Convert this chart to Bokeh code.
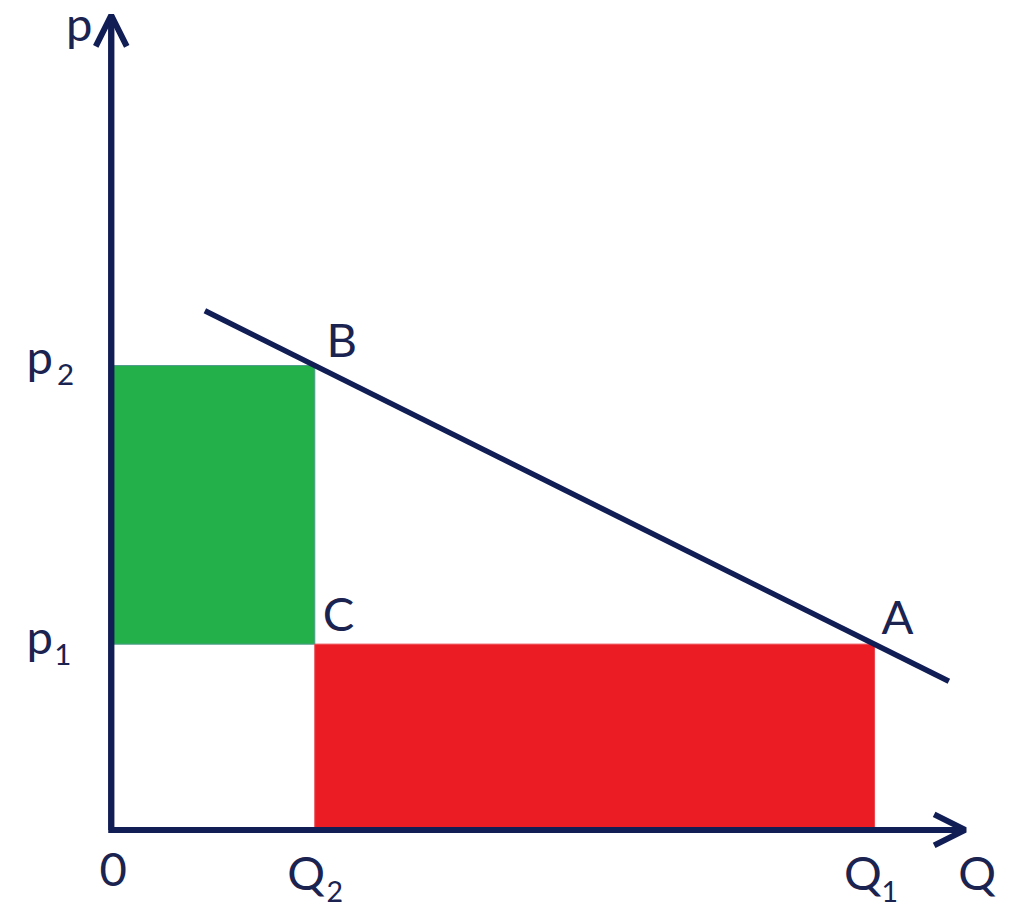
from bokeh.plotting import figure
from bokeh.models import Range1d, Arrow, OpenHead
from bokeh.core.properties import value
from bokeh.embed import file_html
from bokeh.resources import INLINE

# ---- data (economic quantities) ----
Q2 = 2.0
Q1 = 7.5
p1 = 2.0
p2 = 5.0
demand_q = [0.92, 8.23]
demand_p = [5.59, 1.60]
axis_q_max = 8.39
axis_p_max = 8.77

NAVY = "#111d55"
TEXT = "#1b2350"
GREEN = "#23b04b"
RED = "#ec1c24"
FONT = value("Lato")

W, H = 1007, 906
S = W / 1023.0

p = figure(width=W, height=H, output_backend="svg", toolbar_location=None,
           x_range=Range1d(-1.088, 8.806), y_range=Range1d(-0.825, 8.931),
           min_border=0, outline_line_color=None, background_fill_color="white",
           border_fill_color="white")
p.axis.visible = False
p.grid.visible = False

# rectangles
p.quad(left=[0], right=[Q2], bottom=[p1], top=[p2], fill_color=GREEN,
       line_color="#4f9a8c", line_width=1)
p.quad(left=[Q2], right=[Q1], bottom=[0], top=[p1], fill_color=RED,
       line_color="#e8444a", line_width=1)

# axes
p.line([0, 0, axis_q_max], [axis_p_max, 0, 0], line_color=NAVY, line_width=6,
       line_join="miter")
p.add_layout(Arrow(end=OpenHead(size=31, line_width=6, line_color=NAVY),
                   x_start=0, y_start=0, x_end=0, y_end=axis_p_max,
                   line_color=NAVY, line_width=6))
p.add_layout(Arrow(end=OpenHead(size=31, line_width=6, line_color=NAVY),
                   x_start=0, y_start=0, x_end=axis_q_max, y_end=0,
                   line_color=NAVY, line_width=6))

# demand line
p.line(demand_q, demand_p, line_color=NAVY, line_width=5.5)

def label(x, y, t, dx, dy, size=48, align="left"):
    fs = size * S
    p.text(x=[x], y=[y], text=[t], x_offset=dx * S, y_offset=dy * S - 0.39 * fs,
           text_font=FONT, text_font_size=f"{fs:.1f}px", text_color=TEXT,
           text_align=align, text_baseline="alphabetic")

# point labels
label(Q2, p2, "B", 12, -9)
label(Q2, p1, "C", 8, -13)
label(Q1, p1, "A", 7, -10)

# price labels
label(0, p2, "p", -86, 8)
label(0, p2, "2", -55, 21, size=30)
label(0, p1, "p", -86, 10)
label(0, p1, "1", -58, 22, size=30)
label(0, axis_p_max, "p", -46, 26)

# quantity labels
label(0, 0, "0", 2, 59, align="center")
label(Q2, 0, "Q", -28, 61)
label(Q2, 0, "2", 12, 74, size=29)
label(Q1, 0, "Q", -31, 61)
label(Q1, 0, "1", 7, 74, size=29)
label(axis_q_max, 0, "Q", -7, 61)

open("out.html", "w").write(file_html(p, INLINE))
